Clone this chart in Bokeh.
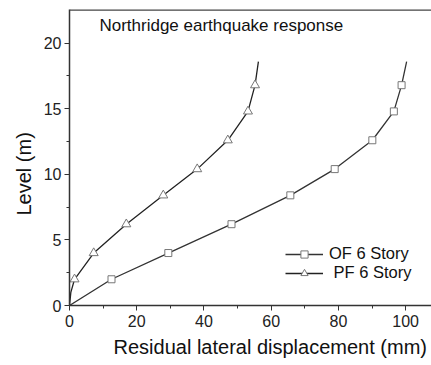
from bokeh.plotting import figure
from bokeh.models import Range1d, Span, Legend, LegendItem, FixedTicker, Title
from bokeh.core.properties import value
from bokeh.embed import file_html
from bokeh.resources import INLINE

# Levels (m)
levels = [0.0, 2.0, 4.0, 6.2, 8.4, 10.4, 12.6, 14.8, 16.8, 18.6]
# Residual lateral displacement (mm)
of_disp = [0.0, 12.5, 29.4, 48.2, 65.7, 78.9, 90.1, 96.5, 98.8, 100.3]
pf_levels = [0.0, 1.0, 2.0, 4.0, 6.2, 8.4, 10.4, 12.6, 14.8, 16.8, 18.6]
pf_disp = [0.0, 0.4, 1.5, 7.2, 16.9, 27.9, 38.0, 47.1, 53.1, 55.2, 56.2]
# marker positions (levels 2 .. 16.8)
of_mk_x = of_disp[1:-1]
of_mk_y = levels[1:-1]
pf_mk_x = pf_disp[2:-1]
pf_mk_y = pf_levels[2:-1]

x_ticks = [0, 20, 40, 60, 80, 100]
y_ticks = [0, 5, 10, 15, 20]

FONT = "Liberation Sans"

p = figure(width=431, height=365, output_backend="svg", toolbar_location=None,
           x_range=Range1d(0, 107.7), y_range=Range1d(0, 22.57),
           min_border_left=69, min_border_right=0, min_border_top=9, min_border_bottom=60)
p.outline_line_color = None
p.xgrid.visible = False
p.ygrid.visible = False
p.background_fill_color = "white"

p.add_layout(Span(location=22.55, dimension="width", line_color="#444444", line_width=2))

for ax in (p.xaxis[0], p.yaxis[0]):
    ax.axis_line_color = "#333333"
    ax.axis_line_width = 1.5
    ax.major_tick_line_color = "#333333"
    ax.minor_tick_line_color = "#333333"
    ax.major_tick_in = 0
    ax.major_tick_out = 5
    ax.minor_tick_in = 0
    ax.minor_tick_out = 3
    ax.major_label_text_font = FONT
    ax.major_label_text_font_size = "16px"
    ax.major_label_text_color = "#222222"

p.xaxis[0].ticker = FixedTicker(ticks=x_ticks, minor_ticks=[10, 30, 50, 70, 90])
p.yaxis[0].ticker = FixedTicker(ticks=y_ticks, minor_ticks=[2.5, 7.5, 12.5, 17.5])
p.xaxis.major_label_standoff = 4
p.yaxis.major_label_standoff = 3

# axis titles as Title annotations so they can be offset like the reference
p.add_layout(Title(text="Residual lateral displacement (mm)", align="left", offset=44,
                   text_font=FONT, text_font_size="20px", text_font_style="normal",
                   text_color="#111111", standoff=9), "below")
p.add_layout(Title(text="Level (m)", align="left", offset=90,
                   text_font=FONT, text_font_size="20px", text_font_style="normal",
                   text_color="#111111", standoff=12), "left")

l1 = p.line(of_disp, levels, line_color="#333333", line_width=1.3)
m1 = p.scatter(of_mk_x, of_mk_y, marker="square", size=7, fill_color="white",
               line_color="#777777", line_width=1)
l2 = p.line(pf_disp, pf_levels, line_color="#222222", line_width=1.3)
m2 = p.scatter(pf_mk_x, pf_mk_y, marker="triangle", size=9, fill_color="white",
               line_color="#777777", line_width=1)

p.text(x=[8.9], y=[21.35], text=["Northridge earthquake response"],
       text_font=value(FONT), text_font_size="17px", text_color="#111111",
       text_baseline="middle", text_align="left")

legend = Legend(items=[LegendItem(label="OF 6 Story", renderers=[l1, m1]),
                       LegendItem(label=" PF 6 Story", renderers=[l2, m2])],
                location=(216, 23))
legend.border_line_color = None
legend.background_fill_alpha = 0
legend.padding = 0
legend.margin = 0
legend.spacing = 0
legend.glyph_width = 38
legend.glyph_height = 18
legend.label_height = 18
legend.label_standoff = 6
legend.label_text_font = FONT
legend.label_text_font_size = "16.5px"
legend.label_text_color = "#111111"
p.add_layout(legend)

open("out.html", "w").write(file_html(p, INLINE))
